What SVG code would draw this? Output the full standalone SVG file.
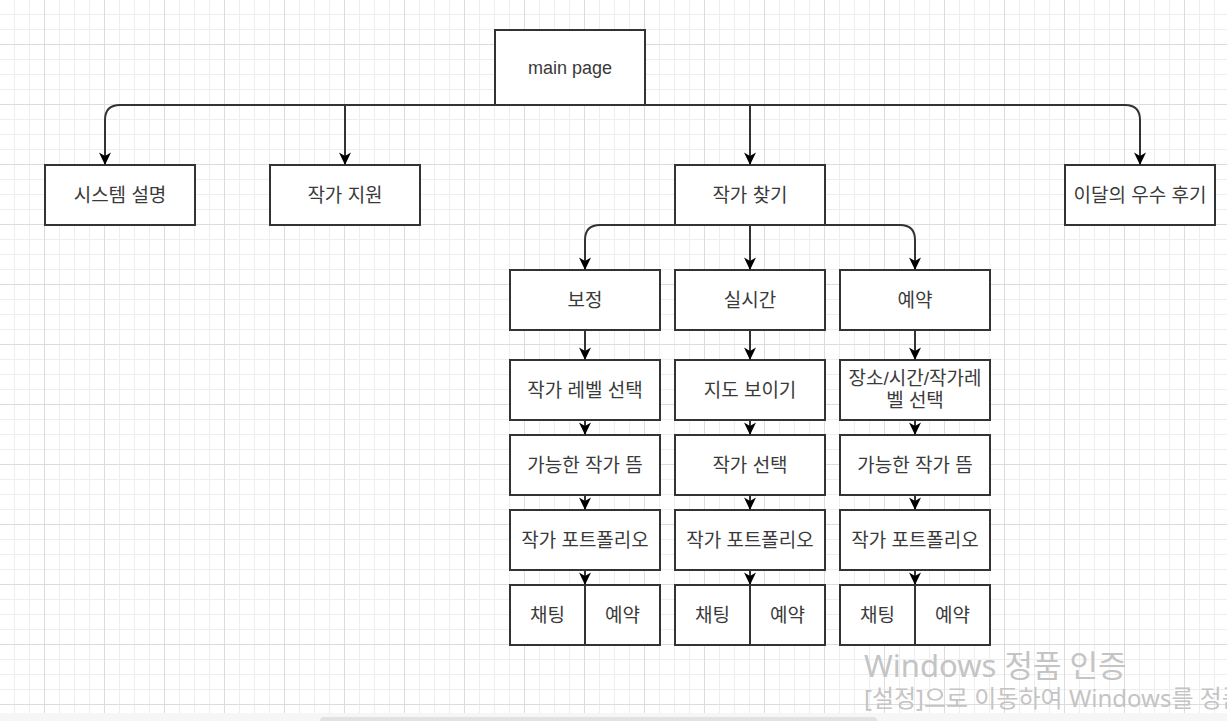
<svg xmlns="http://www.w3.org/2000/svg" width="1227" height="721" viewBox="0 0 1227 721">
  <defs>
    <pattern id="grid" x="44" y="44" width="60" height="60" patternUnits="userSpaceOnUse">
      <path d="M15.5,0V60M30.5,0V60M45.5,0V60M0,15.5H60M0,30.5H60M0,45.5H60" stroke="#eeeeee" stroke-width="1" fill="none"/>
      <path d="M0.5,0V60M0,0.5H60" stroke="#dcdcdc" stroke-width="1" fill="none"/>
    </pattern>
    <marker id="arr" viewBox="-13 -7 14 14" refX="0" refY="0" markerWidth="14" markerHeight="14" markerUnits="userSpaceOnUse" orient="auto">
      <path d="M0,0 L-12.5,-6 L-9,0 L-12.5,6 Z" fill="#000"/>
    </marker>
    <style>
      .box { fill: #ffffff; stroke: #333333; stroke-width: 2; }
      .lbl { font-family: "Liberation Sans", "Noto Sans CJK KR", sans-serif; font-size: 19px; fill: #3a3a3a; text-anchor: middle; dominant-baseline: central; }
      .en { font-size: 18px; }
      .edge { fill: none; stroke: #333333; stroke-width: 2; marker-end: url(#arr); }
      .wm { font-family: "Noto Sans", "Noto Sans CJK KR", sans-serif; fill: #c4c4c4; }
    </style>
  </defs>
  <rect x="0" y="0" width="1227" height="721" fill="#ffffff"/>
  <rect x="0" y="0" width="1227" height="713" fill="url(#grid)"/>

  <g id="main-page"><rect class="box" x="495" y="30" width="150" height="75"/><text class="lbl en" x="570" y="67.5">main page</text></g>
  <g id="system-desc"><rect class="box" x="45" y="165" width="150" height="60"/><text class="lbl" x="120" y="195">시스템 설명</text></g>
  <g id="artist-apply"><rect class="box" x="270" y="165" width="150" height="60"/><text class="lbl" x="345" y="195">작가 지원</text></g>
  <g id="find-artist"><rect class="box" x="675" y="165" width="150" height="60"/><text class="lbl" x="750" y="195">작가 찾기</text></g>
  <g id="best-review"><rect class="box" x="1065" y="165" width="150" height="60"/><text class="lbl" x="1140" y="195">이달의 우수 후기</text></g>

  <g id="bojeong"><rect class="box" x="510" y="270" width="150" height="60"/><text class="lbl" x="585" y="300">보정</text></g>
  <g id="realtime"><rect class="box" x="675" y="270" width="150" height="60"/><text class="lbl" x="750" y="300">실시간</text></g>
  <g id="reserve"><rect class="box" x="840" y="270" width="150" height="60"/><text class="lbl" x="915" y="300">예약</text></g>

  <g id="b-level"><rect class="box" x="510" y="360" width="150" height="60"/><text class="lbl" x="585" y="390">작가 레벨 선택</text></g>
  <g id="r-map"><rect class="box" x="675" y="360" width="150" height="60"/><text class="lbl" x="750" y="390">지도 보이기</text></g>
  <g id="v-select"><rect class="box" x="840" y="360" width="150" height="60"/><text class="lbl" x="915" y="378">장소/시간/작가레</text><text class="lbl" x="915" y="400">벨 선택</text></g>

  <g id="b-avail"><rect class="box" x="510" y="435" width="150" height="60"/><text class="lbl" x="585" y="465">가능한 작가 뜸</text></g>
  <g id="r-select"><rect class="box" x="675" y="435" width="150" height="60"/><text class="lbl" x="750" y="465">작가 선택</text></g>
  <g id="v-avail"><rect class="box" x="840" y="435" width="150" height="60"/><text class="lbl" x="915" y="465">가능한 작가 뜸</text></g>

  <g id="b-portfolio"><rect class="box" x="510" y="510" width="150" height="60"/><text class="lbl" x="585" y="540">작가 포트폴리오</text></g>
  <g id="r-portfolio"><rect class="box" x="675" y="510" width="150" height="60"/><text class="lbl" x="750" y="540">작가 포트폴리오</text></g>
  <g id="v-portfolio"><rect class="box" x="840" y="510" width="150" height="60"/><text class="lbl" x="915" y="540">작가 포트폴리오</text></g>

  <g id="b-chat"><rect class="box" x="510" y="585" width="75" height="60"/><text class="lbl" x="547.5" y="615">채팅</text></g>
  <g id="b-book"><rect class="box" x="585" y="585" width="75" height="60"/><text class="lbl" x="622.5" y="615">예약</text></g>
  <g id="r-chat"><rect class="box" x="675" y="585" width="75" height="60"/><text class="lbl" x="712.5" y="615">채팅</text></g>
  <g id="r-book"><rect class="box" x="750" y="585" width="75" height="60"/><text class="lbl" x="787.5" y="615">예약</text></g>
  <g id="v-chat"><rect class="box" x="840" y="585" width="75" height="60"/><text class="lbl" x="877.5" y="615">채팅</text></g>
  <g id="v-book"><rect class="box" x="915" y="585" width="75" height="60"/><text class="lbl" x="952.5" y="615">예약</text></g>

  <g id="connectors">
    <path class="edge" d="M570,105 H120 Q105,105 105,120 V165"/>
    <path class="edge" d="M570,105 H1125 Q1140,105 1140,120 V165"/>
    <path class="edge" d="M345,105 V165"/>
    <path class="edge" d="M750,105 V165"/>
    <path class="edge" d="M750,225 H600 Q585,225 585,240 V270"/>
    <path class="edge" d="M750,225 H900 Q915,225 915,240 V270"/>
    <path class="edge" d="M750,225 V270"/>
    <path class="edge" d="M585,330 V360"/>
    <path class="edge" d="M585,420 V435"/>
    <path class="edge" d="M585,495 V510"/>
    <path class="edge" d="M585,570 V585"/>
    <path class="edge" d="M750,330 V360"/>
    <path class="edge" d="M750,420 V435"/>
    <path class="edge" d="M750,495 V510"/>
    <path class="edge" d="M750,570 V585"/>
    <path class="edge" d="M915,330 V360"/>
    <path class="edge" d="M915,420 V435"/>
    <path class="edge" d="M915,495 V510"/>
    <path class="edge" d="M915,570 V585"/>
  </g>

  <text class="wm" x="864" y="677" font-size="31">Windows 정품 인증</text>
  <text class="wm" x="864" y="707" font-size="24">[설정]으로 이동하여 Windows를 정품</text>

  <rect x="0" y="713" width="1227" height="8" fill="#f6f6f6"/>
  <rect x="320" y="717" width="557" height="8" rx="4" fill="#e2e2e2"/>
</svg>
